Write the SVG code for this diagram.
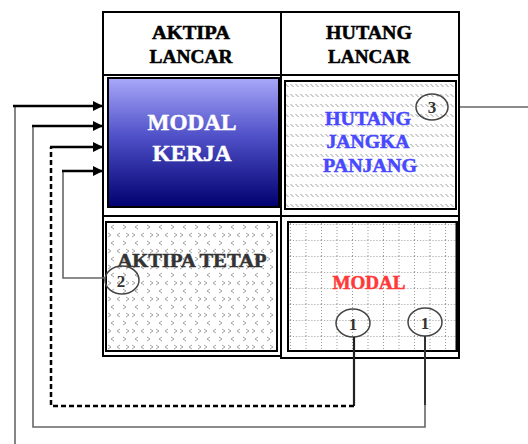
<svg xmlns="http://www.w3.org/2000/svg" width="528" height="444" viewBox="0 0 528 444">
<style>
.frame{fill:none;stroke:#000;stroke-width:2}
.hdr{font-family:"Liberation Serif",serif;font-weight:bold;font-size:18.5px;fill:#000;stroke:#000;stroke-width:0.5;text-anchor:middle}
.big{font-family:"Liberation Serif",serif;font-weight:bold;text-anchor:middle;stroke-width:0.5}
.num{font-family:"Liberation Serif",serif;font-weight:bold;font-size:17px;fill:#333;text-anchor:middle}
.circ{fill:none;stroke:#444;stroke-width:1.5}
.thick{fill:none;stroke:#000;stroke-width:2.5}
.thin{fill:none;stroke:#666;stroke-width:1.6}
</style>
<defs>
<linearGradient id="gMK" x1="0" y1="0" x2="0" y2="1">
<stop offset="0" stop-color="#a8a8fa"/>
<stop offset="0.45" stop-color="#5050c8"/>
<stop offset="1" stop-color="#000070"/>
</linearGradient>
<pattern id="pHatch" width="5" height="10" patternUnits="userSpaceOnUse" x="285" y="83">
<line x1="0.5" y1="1" x2="3.5" y2="4" stroke="#999" stroke-width="1"/>
</pattern>
<pattern id="pChev" width="24" height="16" patternUnits="userSpaceOnUse" x="108" y="224">
<polyline points="6,1 3,3 6,5" fill="none" stroke="#999" stroke-width="0.9"/>
<polyline points="15,1 18,3 15,5" fill="none" stroke="#999" stroke-width="0.9"/>
<polyline points="0,9 3,11 0,13" fill="none" stroke="#999" stroke-width="0.9"/>
<polyline points="12,9 9,11 12,13" fill="none" stroke="#999" stroke-width="0.9"/>
<polyline points="18,9 21,11 18,13" fill="none" stroke="#999" stroke-width="0.9"/>
</pattern>
<pattern id="pGrid" width="15.5" height="16" patternUnits="userSpaceOnUse" x="290" y="224">
<line x1="0" y1="0.5" x2="15.5" y2="0.5" stroke="#999" stroke-width="1" stroke-dasharray="1,2"/>
<line x1="0.5" y1="0" x2="0.5" y2="16" stroke="#999" stroke-width="1" stroke-dasharray="1,2"/>
</pattern>
<marker id="arr" viewBox="0 0 10 10" refX="10" refY="5" markerWidth="10" markerHeight="10" markerUnits="userSpaceOnUse" orient="auto">
<path d="M0,0 L10,5 L0,10 Z" fill="#000"/>
</marker>
</defs>

<g id="table">
<rect class="frame" x="103" y="12" width="178" height="344"/>
<rect class="frame" x="281" y="12" width="178" height="346"/>
<line class="frame" x1="103" y1="75" x2="459" y2="75"/>
<line class="frame" x1="103" y1="216" x2="459" y2="216"/>
</g>

<g id="header-aktipa-lancar">
<text class="hdr" x="191" y="39" textLength="78" lengthAdjust="spacingAndGlyphs">AKTIPA</text>
<text class="hdr" x="191" y="63" textLength="83" lengthAdjust="spacingAndGlyphs">LANCAR</text>
</g>
<g id="header-hutang-lancar">
<text class="hdr" x="369" y="39" textLength="86" lengthAdjust="spacingAndGlyphs">HUTANG</text>
<text class="hdr" x="369" y="63" textLength="82" lengthAdjust="spacingAndGlyphs">LANCAR</text>
</g>

<g id="modal-kerja">
<rect x="108" y="78" width="171" height="129" fill="url(#gMK)" stroke="#000" stroke-width="2"/>
<text class="big" x="192" y="130" font-size="24" fill="#fff" stroke="#fff" textLength="89" lengthAdjust="spacingAndGlyphs">MODAL</text>
<text class="big" x="192" y="161" font-size="24" fill="#fff" stroke="#fff" textLength="79" lengthAdjust="spacingAndGlyphs">KERJA</text>
</g>

<g id="hutang-jangka-panjang">
<rect x="285" y="81" width="171" height="128" fill="url(#pHatch)" stroke="#000" stroke-width="2"/>
<text class="big" x="368" y="125" font-size="19.5" fill="#4848ff" stroke="#4848ff" textLength="86" lengthAdjust="spacingAndGlyphs">HUTANG</text>
<text class="big" x="368" y="148" font-size="19.5" fill="#4848ff" stroke="#4848ff" textLength="83" lengthAdjust="spacingAndGlyphs">JANGKA</text>
<text class="big" x="370" y="172" font-size="19.5" fill="#4848ff" stroke="#4848ff" textLength="94" lengthAdjust="spacingAndGlyphs">PANJANG</text>
</g>

<g id="aktipa-tetap">
<rect x="106" y="222" width="171" height="129" fill="url(#pChev)" stroke="#000" stroke-width="2"/>
<text class="big" x="192" y="267" font-size="19.5" fill="#333" stroke="#333" textLength="149" lengthAdjust="spacingAndGlyphs">AKTIPA TETAP</text>
</g>

<g id="modal">
<rect x="288" y="222" width="169" height="129" fill="url(#pGrid)" stroke="#000" stroke-width="2"/>
<line x1="457" y1="222" x2="457" y2="351" stroke="#000" stroke-width="3"/>
<text class="big" x="369" y="289" font-size="19" fill="#ff3838" stroke="#ff3838" textLength="73" lengthAdjust="spacingAndGlyphs">MODAL</text>
</g>

<g id="badge-3">
<ellipse class="circ" cx="432" cy="107" rx="16" ry="13"/>
<text class="num" x="432" y="113">3</text>
</g>
<g id="badge-2">
<ellipse class="circ" cx="122" cy="280" rx="17" ry="14"/>
<text class="num" x="121" y="287">2</text>
</g>
<g id="badge-1a">
<ellipse class="circ" cx="353" cy="323" rx="17" ry="14"/>
<text class="num" x="353" y="330">1</text>
</g>
<g id="badge-1b">
<ellipse class="circ" cx="425" cy="322" rx="17" ry="14"/>
<text class="num" x="425" y="329">1</text>
</g>

<g id="connectors">
<line class="thin" x1="460" y1="107" x2="528" y2="107"/>
<line class="thin" x1="15" y1="106" x2="15" y2="444"/>
<line class="thick" x1="13" y1="106" x2="103" y2="106" marker-end="url(#arr)"/>
<polyline class="thin" points="425,336 425,427 33,427 33,126"/>
<line x1="425" y1="336" x2="425" y2="405" stroke="#333" stroke-width="2"/>
<line class="thick" x1="32" y1="126" x2="103" y2="126" marker-end="url(#arr)"/>
<polyline points="354,337 354,406" fill="none" stroke="#222" stroke-width="2.2"/>
<polyline points="354,406 51,406 51,147" fill="none" stroke="#000" stroke-width="2.5" stroke-dasharray="5,3"/>
<line class="thick" x1="50" y1="147" x2="103" y2="147" marker-end="url(#arr)"/>
<polyline class="thin" points="105,278 63,278 63,171"/>
<line class="thick" x1="62" y1="171" x2="103" y2="171" marker-end="url(#arr)"/>
</g>
</svg>
